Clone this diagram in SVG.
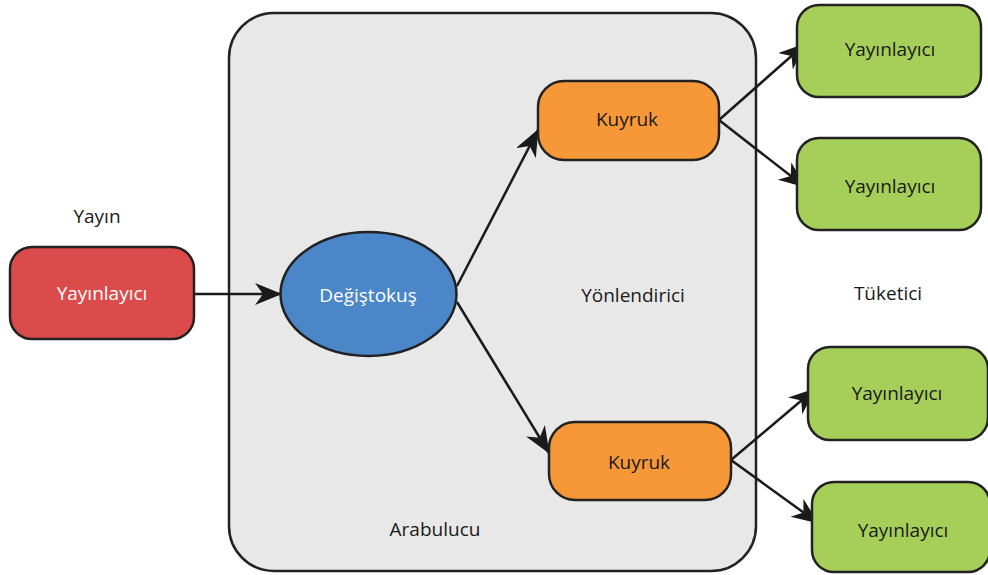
<svg xmlns="http://www.w3.org/2000/svg" width="988" height="575" viewBox="0 0 988 575">
  <defs>
    <marker id="arrow" markerUnits="userSpaceOnUse" markerWidth="28" markerHeight="24" refX="26" refY="11" orient="auto">
      <path d="M0,0 L27,11 L0,22 L8,11 z" fill="#1a1a1a"/>
    </marker>
    <style>
      .box { stroke: #222; stroke-width: 2.5; }
      .lbl { font-family: "Open Sans", "Liberation Sans", sans-serif; font-size: 19px; text-anchor: middle; dominant-baseline: central; fill: #1a1a1a; }
      .light { fill: #ffffff; }
      .edge { stroke: #1a1a1a; stroke-width: 2.5; fill: none; marker-end: url(#arrow); }
    </style>
  </defs>
  <rect width="988" height="575" fill="#ffffff"/>

  <!-- broker container -->
  <g id="broker">
    <rect class="box" x="229" y="13" width="527" height="558" rx="45" fill="#e8e8e8"/>
    <text class="lbl" x="435" y="529">Arabulucu</text>
  </g>

  <!-- free labels -->
  <text class="lbl" x="97" y="216">Yayın</text>
  <text class="lbl" x="633" y="295">Yönlendirici</text>
  <text class="lbl" x="888" y="293">Tüketici</text>

  <!-- connectors -->
  <g id="connectors">
    <line class="edge" x1="194" y1="294" x2="281" y2="294"/>
    <line class="edge" x1="457" y1="286" x2="538" y2="130"/>
    <line class="edge" x1="457" y1="302" x2="549" y2="453"/>
    <line class="edge" x1="719" y1="120" x2="805" y2="44"/>
    <line class="edge" x1="719" y1="120" x2="805" y2="187"/>
    <line class="edge" x1="731" y1="460" x2="815" y2="389"/>
    <line class="edge" x1="731" y1="460" x2="818" y2="523"/>
  </g>

  <g id="publisher">
    <rect class="box" x="10" y="247" width="184" height="92" rx="22" fill="#dc4b4b"/>
    <text class="lbl light" x="102" y="293">Yayınlayıcı</text>
  </g>

  <g id="exchange">
    <ellipse class="box" cx="368.5" cy="294" rx="88" ry="62" fill="#4a86c8"/>
    <text class="lbl light" x="368" y="295">Değiştokuş</text>
  </g>

  <g id="queue-top">
    <rect class="box" x="538" y="81" width="181" height="79" rx="26" fill="#f79838"/>
    <text class="lbl" x="627" y="119">Kuyruk</text>
  </g>

  <g id="queue-bottom">
    <rect class="box" x="549" y="422" width="182" height="78" rx="26" fill="#f79838"/>
    <text class="lbl" x="639" y="462">Kuyruk</text>
  </g>

  <g id="consumer-1">
    <rect class="box" x="797" y="5" width="184" height="92" rx="22" fill="#a6cf5a"/>
    <text class="lbl" x="890" y="49">Yayınlayıcı</text>
  </g>

  <g id="consumer-2">
    <rect class="box" x="797" y="138" width="184" height="92" rx="22" fill="#a6cf5a"/>
    <text class="lbl" x="890" y="186">Yayınlayıcı</text>
  </g>

  <g id="consumer-3">
    <rect class="box" x="808" y="347" width="180" height="93" rx="22" fill="#a6cf5a"/>
    <text class="lbl" x="897" y="393">Yayınlayıcı</text>
  </g>

  <g id="consumer-4">
    <rect class="box" x="812" y="482" width="178" height="90" rx="22" fill="#a6cf5a"/>
    <text class="lbl" x="903" y="530">Yayınlayıcı</text>
  </g>
</svg>
